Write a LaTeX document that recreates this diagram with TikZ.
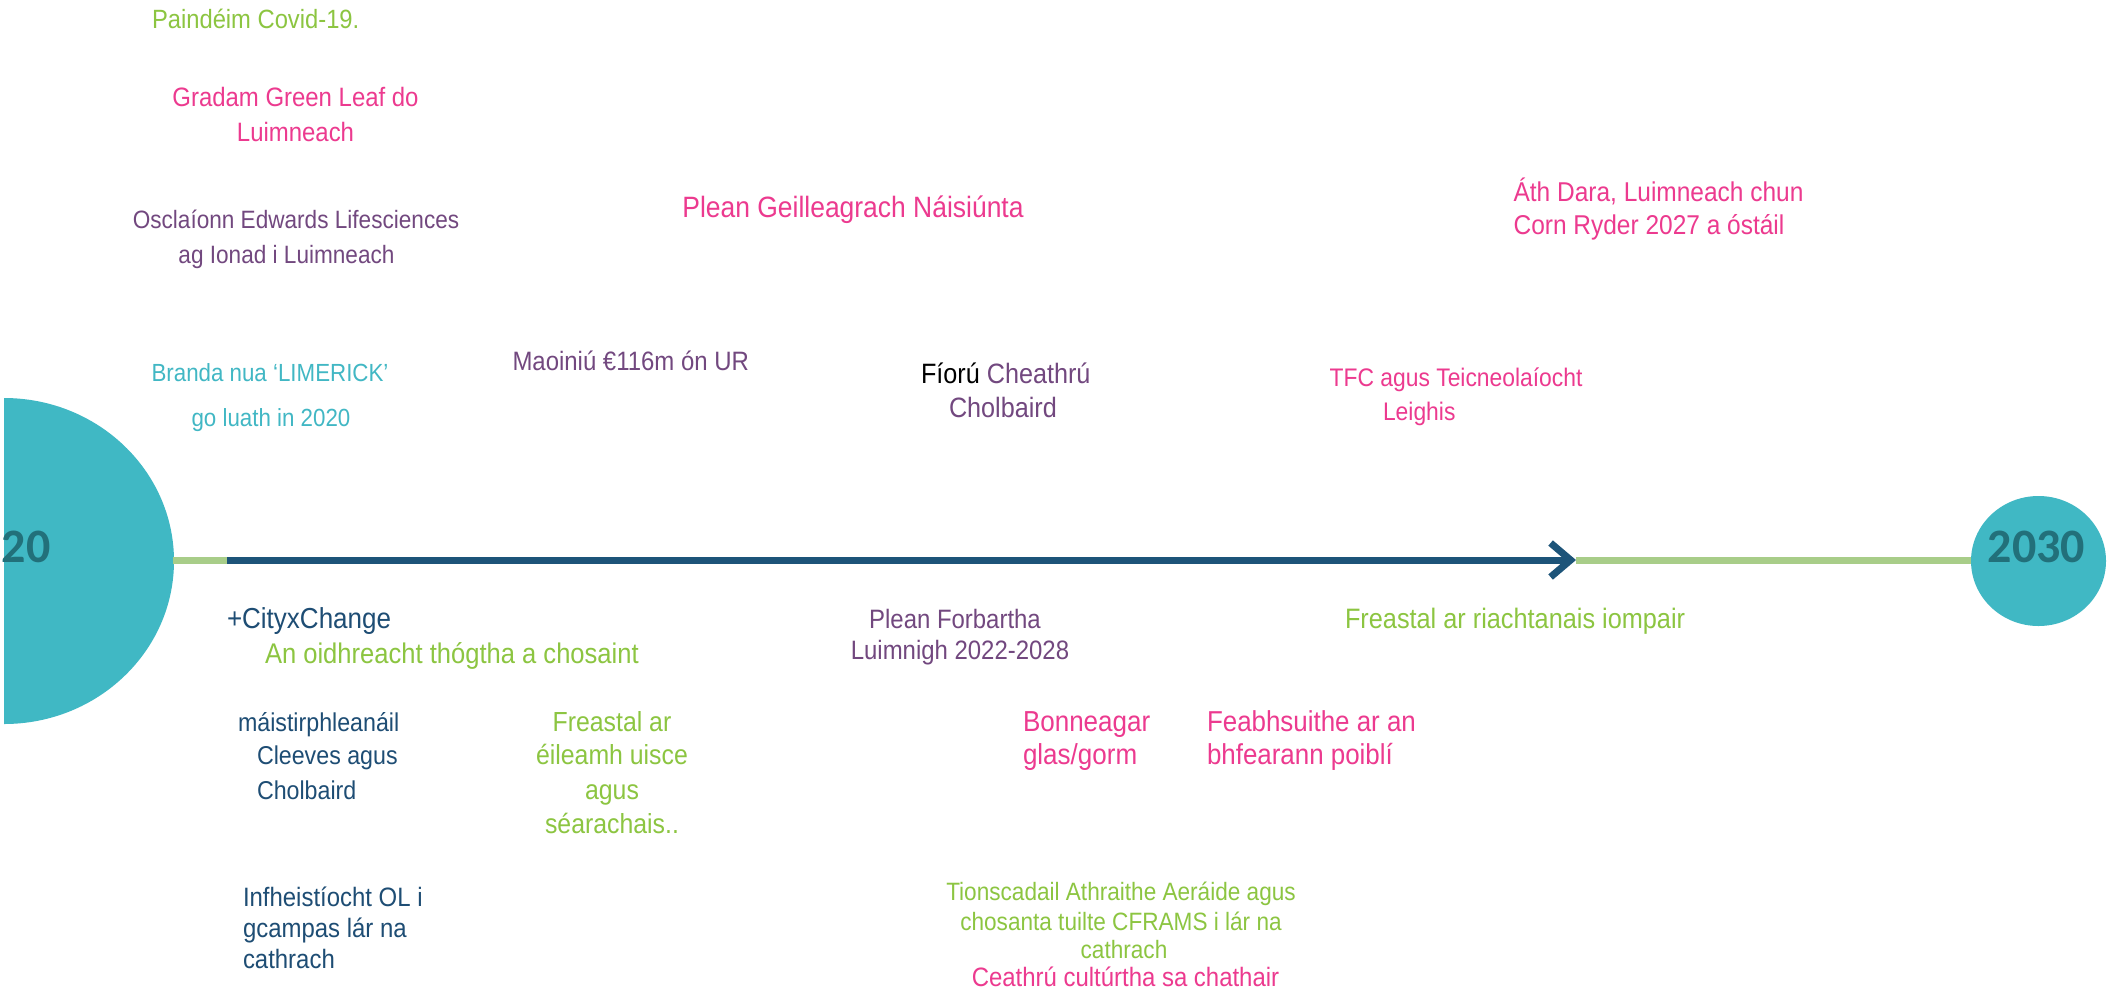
\documentclass[tikz,border=0pt]{standalone}
\usepackage{fontspec}
\setmainfont{Liberation Sans}[FakeStretch=0.9]
\newfontfamily\yearfont{Carlito}
\usetikzlibrary{arrows.meta,shapes.geometric}
\definecolor{cgreen}{HTML}{8CC541}
\definecolor{cpink}{HTML}{EC3A8F}
\definecolor{cpurple}{HTML}{72487F}
\definecolor{cteal}{HTML}{41B7C4}
\definecolor{cdblue}{HTML}{1E4D74}
\definecolor{cfill}{HTML}{40B8C4}
\definecolor{cyear}{HTML}{22707A}
\definecolor{clgreen}{HTML}{A8CD89}
\definecolor{cline}{HTML}{1D5479}
\newcommand\fsz[1]{\fontsize{#1}{#1}\selectfont}
\tikzset{
  tx/.style={inner sep=0pt, outer sep=0pt, font=\fsz{#1}},
  L/.style={anchor=base west},
  C/.style={anchor=base},
  yr/.style={inner sep=0pt, outer sep=0pt, text=cyear, font=\yearfont\bfseries\fsz{24}},
  axis/.style={line width=3.5pt}
}
\begin{document}
\begin{tikzpicture}[x=0.5pt,y=-0.5pt]
\fill[white] (0,0) rectangle (2111,993);
\useasboundingbox (0,0) rectangle (2111,993);

% start disc and end circle
\fill[cfill] (4,398) arc[start angle=-90,end angle=90,x radius=170,y radius=163] -- cycle;
\node[yr, anchor=west] (y2020) at (2,546.5) {20};
\node[ellipse, fill=cfill, draw=none, minimum width=67.5pt, minimum height=65pt, inner sep=0pt, outer sep=0pt] (c2030) at (2038.5,561) {};
\node[yr, anchor=center] (y2030) at (2036.5,546.5) {2030};

% timeline
\coordinate (discE) at (173,560);
\coordinate (bs) at (227,560);
\coordinate (tip) at (1576,560);
\draw[axis, clgreen] (discE) -- (bs);
\draw[axis, clgreen] (tip) -- (tip -| c2030.west);
\draw[axis, cline, -{Straight Barb[length=10pt,width=17pt]}] (bs) -- (tip);

% upper texts
\node[tx=13.2, L, text=cgreen] (paind) at (152,28) {Paindéim Covid-19.};
\node[tx=13.3, C, text=cpink] (grad1) at (295.5,106) {Gradam Green Leaf do};
\node[tx=13.3, C, text=cpink] (grad2) at (295.5,141) {Luimneach};
\node[tx=12.55, C, text=cpurple] (oscl1) at (296,228) {Osclaíonn Edwards Lifesciences};
\node[tx=12.55, C, text=cpurple] (oscl2) at (286.5,263) {ag Ionad i Luimneach};
\node[tx=12.4, C, text=cteal] (brand1) at (270,381) {Branda nua ‘LIMERICK’};
\node[tx=12.4, C, text=cteal] (brand2) at (271,426) {go luath in 2020};
\node[tx=14.7, C, text=cpink] (plgeil) at (853,217) {Plean Geilleagrach Náisiúnta};
\node[tx=13.3, L, text=cpurple] (maoin) at (512.5,370) {Maoiniú €116m ón UR};
\node[tx=14, L, text=cpurple] (fioru1) at (921,383) {{\color{black}Fíorú} Cheathrú};
\node[tx=14, L, text=cpurple] (fioru2) at (949,417) {Cholbaird};
\node[tx=13.6, L, text=cpink] (ath1) at (1513.6,201) {Áth Dara, Luimneach chun};
\node[tx=13.6, L, text=cpink] (ath2) at (1513.6,234) {Corn Ryder 2027 a óstáil};
\node[tx=12.7, L, text=cpink] (tfc1) at (1329.6,386) {TFC agus Teicneolaíocht};
\node[tx=12.7, L, text=cpink] (tfc2) at (1383,420) {Leighis};

% lower texts
\node[tx=14.45, L, text=cdblue] (city) at (227,628) {+CityxChange};
\node[tx=14.2, L, text=cgreen] (oidh) at (265,663) {An oidhreacht thógtha a chosaint};
\node[tx=13.3, C, text=cpurple] (plfor1) at (955,628) {Plean Forbartha};
\node[tx=13.3, C, text=cpurple] (plfor2) at (960,659) {Luimnigh 2022-2028};
\node[tx=14.05, L, text=cgreen] (freir) at (1345,628) {Freastal ar riachtanais iompair};
\node[tx=12.9, L, text=cdblue] (maist1) at (238,731) {máistirphleanáil};
\node[tx=12.9, L, text=cdblue] (maist2) at (257,764) {Cleeves agus};
\node[tx=12.9, L, text=cdblue] (maist3) at (257,799) {Cholbaird};
\node[tx=13.8, C, text=cgreen] (uis1) at (612,731) {Freastal ar};
\node[tx=13.8, C, text=cgreen] (uis2) at (612,764) {éileamh uisce};
\node[tx=13.8, C, text=cgreen] (uis3) at (612,799) {agus};
\node[tx=13.8, C, text=cgreen] (uis4) at (612,833) {séarachais..};
\node[tx=14.45, L, text=cpink] (bonn1) at (1023,731) {Bonneagar};
\node[tx=14.45, L, text=cpink] (bonn2) at (1023,764) {glas/gorm};
\node[tx=14.4, L, text=cpink] (feab1) at (1207,731) {Feabhsuithe ar an};
\node[tx=14.4, L, text=cpink] (feab2) at (1207,764) {bhfearann poiblí};
\node[tx=13.3, L, text=cdblue] (infh1) at (243,906) {Infheistíocht OL i};
\node[tx=13.3, L, text=cdblue] (infh2) at (243,937) {gcampas lár na};
\node[tx=13.3, L, text=cdblue] (infh3) at (243,968) {cathrach};
\node[tx=12.55, C, text=cgreen] (tion1) at (1121,900) {Tionscadail Athraithe Aeráide agus};
\node[tx=12.55, C, text=cgreen] (tion2) at (1121,930) {chosanta tuilte CFRAMS i lár na};
\node[tx=12.55, C, text=cgreen] (tion3) at (1124,958) {cathrach};
\node[tx=13.3, C, text=cpink] (ceath) at (1125.5,986) {Ceathrú cultúrtha sa chathair};
\end{tikzpicture}
\end{document}
